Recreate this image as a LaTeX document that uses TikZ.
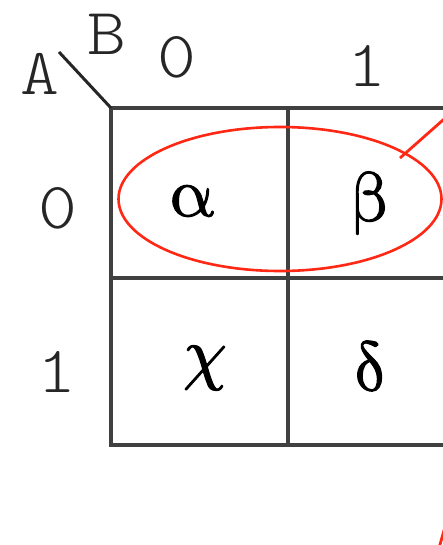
\documentclass[tikz,border=0pt]{standalone}
\usepackage{fontspec}
\usepackage{unicode-math}
\setmathfont{Latin Modern Math}[FakeBold=1.6]
\usetikzlibrary{shapes.geometric}
\setmainfont{Liberation Serif}
\newfontfamily\monofont[FakeStretch=1.12]{Latin Modern Mono Light}
\definecolor{ered}{RGB}{255,40,20}
\begin{document}
\begin{tikzpicture}[x=1pt,y=-1pt,
  grid/.style={line width=3.2pt,draw=black!75},
  lbl/.style={font=\monofont\fontsize{66}{66}\selectfont,text=black!85,inner sep=0pt},
  greek/.style={font=\fontsize{70}{70}\selectfont,inner sep=0pt},
  redline/.style={draw=ered,line width=2.8pt}]
\useasboundingbox (0,0) rectangle (443,545);
\clip (0,0) rectangle (443,545);
% grid
\coordinate (tl) at (111,108);
\coordinate (tm) at (288,108);
\coordinate (tr) at (470,108);
\coordinate (ml) at (111,278);
\coordinate (mr) at (470,278);
\coordinate (bl) at (111,445);
\coordinate (bm) at (288,445);
\coordinate (br) at (470,445);
\draw[grid] (tr) -- (tl) -- (bl) -- (br);
\draw[grid] (tm) -- (bm);
\draw[grid] (ml) -- (mr);
% diagonal
\coordinate (d1) at (59,52);
\draw[line width=3pt,draw=black!85] (d1) -- (tl);
% labels
\node[lbl] (A) at (40,74) {A};
\node[lbl] (B) at (107,34) {B};
\node[lbl] (c0) at (177,57) {0};
\node[lbl] (c1) at (367,66) {1};
\node[lbl] (r0) at (58,208) {0};
\node[lbl] (r1) at (57,372) {1};
% cells
\node[greek] (alpha) at (192,201) {$\symup{\alpha}$};
\node[greek] (beta) at (370,203) {$\symup{\beta}$};
\node[greek] (chi) at (205,368) {$\chi$};
\node[greek] (delta) at (370,366) {$\symup{\delta}$};
% ellipse
\node[draw=ered,line width=2.6pt,ellipse,minimum width=323pt,minimum height=144pt,inner sep=0pt] (grp) at (280,199) {};
\coordinate (e1) at (460,105);
\draw[redline] (400,158) -- (e1);
\coordinate (e2) at (447,520);
\draw[redline] (439,548) -- (e2);
\end{tikzpicture}
\end{document}
